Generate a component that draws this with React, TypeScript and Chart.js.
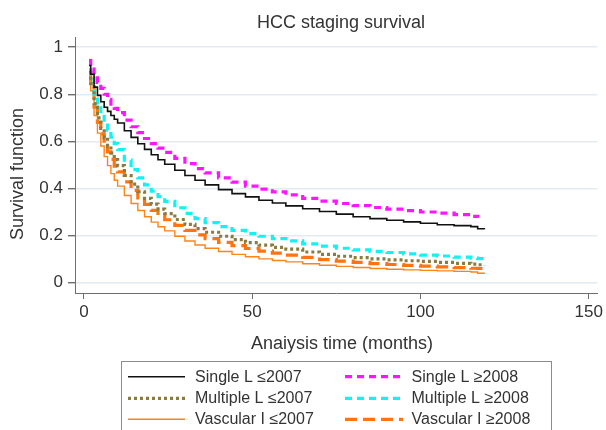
import React, { useEffect, useRef } from "react";
import { Chart, registerables } from "chart.js";

Chart.register(...registerables);

const FONT = '"Liberation Sans", Arial, Helvetica, sans-serif';
const TEXT = "#333333";
const AXIS = "#6e6e6e";

const TITLE = "HCC staging survival";
const X_TITLE = "Anaiysis time (months)";
const Y_TITLE = "Survival function";

const xTicks = [0, 50, 100, 150];
const yTicks = [0, 0.2, 0.4, 0.6, 0.8, 1];

const months = [1.5, 2, 3, 4, 5, 6, 7, 8, 9, 10, 12, 14, 16, 18, 20, 22, 24, 27, 30, 33, 36, 40, 44, 48, 52, 56, 60, 65, 70, 75, 80, 85, 90, 95, 100, 105, 110, 115, 117, 119];

const singleEarly = [0.922, 0.885, 0.83, 0.795, 0.768, 0.745, 0.727, 0.71, 0.694, 0.678, 0.645, 0.617, 0.59, 0.566, 0.543, 0.522, 0.503, 0.477, 0.455, 0.435, 0.415, 0.395, 0.378, 0.364, 0.35, 0.338, 0.326, 0.314, 0.302, 0.291, 0.28, 0.272, 0.265, 0.258, 0.252, 0.246, 0.242, 0.238, 0.229, 0.227];
const singleLate = [0.943, 0.92, 0.88, 0.85, 0.825, 0.8, 0.778, 0.758, 0.74, 0.722, 0.69, 0.662, 0.637, 0.612, 0.59, 0.571, 0.553, 0.528, 0.505, 0.484, 0.466, 0.445, 0.427, 0.41, 0.397, 0.385, 0.373, 0.358, 0.346, 0.336, 0.327, 0.319, 0.312, 0.306, 0.3, 0.295, 0.289, 0.281, 0.275, null];
const multipleEarly = [0.893, 0.845, 0.76, 0.7, 0.655, 0.615, 0.58, 0.55, 0.522, 0.497, 0.455, 0.418, 0.386, 0.358, 0.333, 0.312, 0.293, 0.268, 0.247, 0.229, 0.214, 0.197, 0.183, 0.17, 0.159, 0.15, 0.142, 0.13, 0.12, 0.112, 0.106, 0.101, 0.097, 0.093, 0.09, 0.086, 0.082, 0.079, 0.076, 0.074];
const multipleLate = [0.903, 0.87, 0.8, 0.755, 0.715, 0.68, 0.648, 0.618, 0.59, 0.565, 0.52, 0.48, 0.445, 0.415, 0.388, 0.365, 0.345, 0.318, 0.294, 0.272, 0.255, 0.238, 0.222, 0.208, 0.197, 0.187, 0.177, 0.165, 0.155, 0.146, 0.139, 0.133, 0.128, 0.122, 0.117, 0.113, 0.108, 0.104, 0.102, 0.1];
const vascularEarly = [0.878, 0.815, 0.71, 0.635, 0.58, 0.535, 0.497, 0.463, 0.435, 0.41, 0.37, 0.336, 0.306, 0.28, 0.257, 0.237, 0.22, 0.197, 0.177, 0.16, 0.146, 0.132, 0.12, 0.11, 0.101, 0.094, 0.088, 0.08, 0.074, 0.069, 0.064, 0.06, 0.057, 0.054, 0.052, 0.05, 0.048, 0.045, 0.04, 0.038];
const vascularLate = [0.886, 0.835, 0.745, 0.68, 0.632, 0.59, 0.555, 0.523, 0.495, 0.47, 0.428, 0.392, 0.36, 0.332, 0.307, 0.286, 0.267, 0.243, 0.222, 0.203, 0.187, 0.171, 0.157, 0.145, 0.134, 0.125, 0.117, 0.107, 0.098, 0.091, 0.086, 0.081, 0.077, 0.073, 0.07, 0.067, 0.064, 0.061, 0.06, 0.059];

const seriesLabels = ["Single L \u22642007", "Single L \u22652008", "Multiple L \u22642007", "Multiple L \u22652008", "Vascular I \u22642007", "Vascular I \u22652008"];
const seriesValues = [singleEarly, singleLate, multipleEarly, multipleLate, vascularEarly, vascularLate];
const seriesColors = ["#111111", "#ff14ff", "#8a7b40", "#11f2f2", "#ff8418", "#ff7410"];
const seriesWidths = [1.6, 3.2, 3.2, 3.2, 1.4, 3.2];
const seriesDashes: number[][] = [[], [7, 5], [3, 3], [7, 5], [], [12, 6]];

const toPoints = (vals: (number | null)[]) =>
  months.map((m, i) => ({ x: m, y: vals[i] })).filter((p) => p.y !== null);

const annotatePlugin = {
  id: "annotate",
  afterDraw(chart: any) {
    const ctx = chart.ctx as CanvasRenderingContext2D;
    ctx.save();
    ctx.fillStyle = TEXT;
    ctx.font = `18px ${FONT}`;
    ctx.textAlign = "center";
    ctx.textBaseline = "alphabetic";
    ctx.fillText(TITLE, 341, 27.5);
    ctx.fillText(X_TITLE, 342, 349);
    ctx.save();
    ctx.translate(23, 174);
    ctx.rotate(-Math.PI / 2);
    ctx.fillText(Y_TITLE, 0, 0);
    ctx.restore();

    // legend box
    ctx.strokeStyle = "#8c8c8c";
    ctx.lineWidth = 1;
    ctx.strokeRect(121.5, 361.5, 430, 90);
    const rows = [376.7, 398.3, 419.3];
    const colLine = [[128, 185], [345, 403]];
    const colText = [195, 411.5];
    ctx.font = `16px ${FONT}`;
    ctx.textAlign = "left";
    ctx.textBaseline = "middle";
    chart.data.datasets.forEach((ds: any, i: number) => {
      const r = Math.floor(i / 2);
      const c = i % 2;
      const y = rows[r];
      ctx.save();
      ctx.strokeStyle = ds.borderColor;
      ctx.lineWidth = ds.borderWidth;
      ctx.setLineDash(ds.borderDash || []);
      ctx.beginPath();
      ctx.moveTo(colLine[c][0], y);
      ctx.lineTo(colLine[c][1], y);
      ctx.stroke();
      ctx.restore();
      ctx.fillStyle = TEXT;
      ctx.fillText(ds.label, colText[c], y + 0.5);
    });
    ctx.restore();
  },
};

export default function App() {
  const ref = useRef<HTMLCanvasElement | null>(null);
  useEffect(() => {
    document.body.style.margin = "0";
    Chart.defaults.font.family = FONT;
    const canvas = ref.current!;
    const chart = new Chart(canvas, {
      type: "line",
      data: {
        datasets: seriesLabels.map((label, i) => ({
          label,
          data: toPoints(seriesValues[i]),
          borderColor: seriesColors[i],
          backgroundColor: seriesColors[i],
          borderWidth: seriesWidths[i],
          borderDash: seriesDashes[i],
          stepped: true,
          pointRadius: 0,
          fill: false,
          tension: 0,
        })),
      },
      options: {
        animation: false,
        responsive: false,
        devicePixelRatio: 1,
        layout: { padding: { top: 37, right: 8, left: 0, bottom: 0 } },
        plugins: {
          legend: { display: false },
          title: { display: false },
          tooltip: { enabled: false },
        },
        scales: {
          x: {
            type: "linear",
            min: -2.67,
            max: 152.6,
            afterFit: (s: any) => {
              s.height = 137;
            },
            afterBuildTicks: (s: any) => {
              s.ticks = xTicks.map((v) => ({ value: v }));
            },
            grid: { drawOnChartArea: false, drawTicks: true, tickLength: 6, tickColor: AXIS },
            border: { display: true, color: AXIS, width: 1 },
            ticks: {
              color: TEXT,
              font: { size: 17, family: FONT },
              padding: 3,
              maxRotation: 0,
              callback: (v: any) => String(v),
            },
          },
          y: {
            type: "linear",
            min: -0.044,
            max: 1.043,
            afterFit: (s: any) => {
              s.width = 75;
            },
            afterBuildTicks: (s: any) => {
              s.ticks = yTicks.map((v) => ({ value: v }));
            },
            grid: { color: "#e3ebf0", lineWidth: 1.4, drawTicks: true, tickLength: 7, tickColor: AXIS },
            border: { display: true, color: AXIS, width: 1 },
            ticks: {
              color: TEXT,
              font: { size: 17, family: FONT },
              padding: 5,
              callback: (v: any) => String(Number(Number(v).toFixed(1))),
            },
          },
        },
      },
      plugins: [annotatePlugin],
    } as any);
    return () => chart.destroy();
  }, []);
  return (
    <canvas
      ref={ref}
      width={606}
      height={430}
      style={{ display: "block", width: 606, height: 430 }}
    />
  );
}
